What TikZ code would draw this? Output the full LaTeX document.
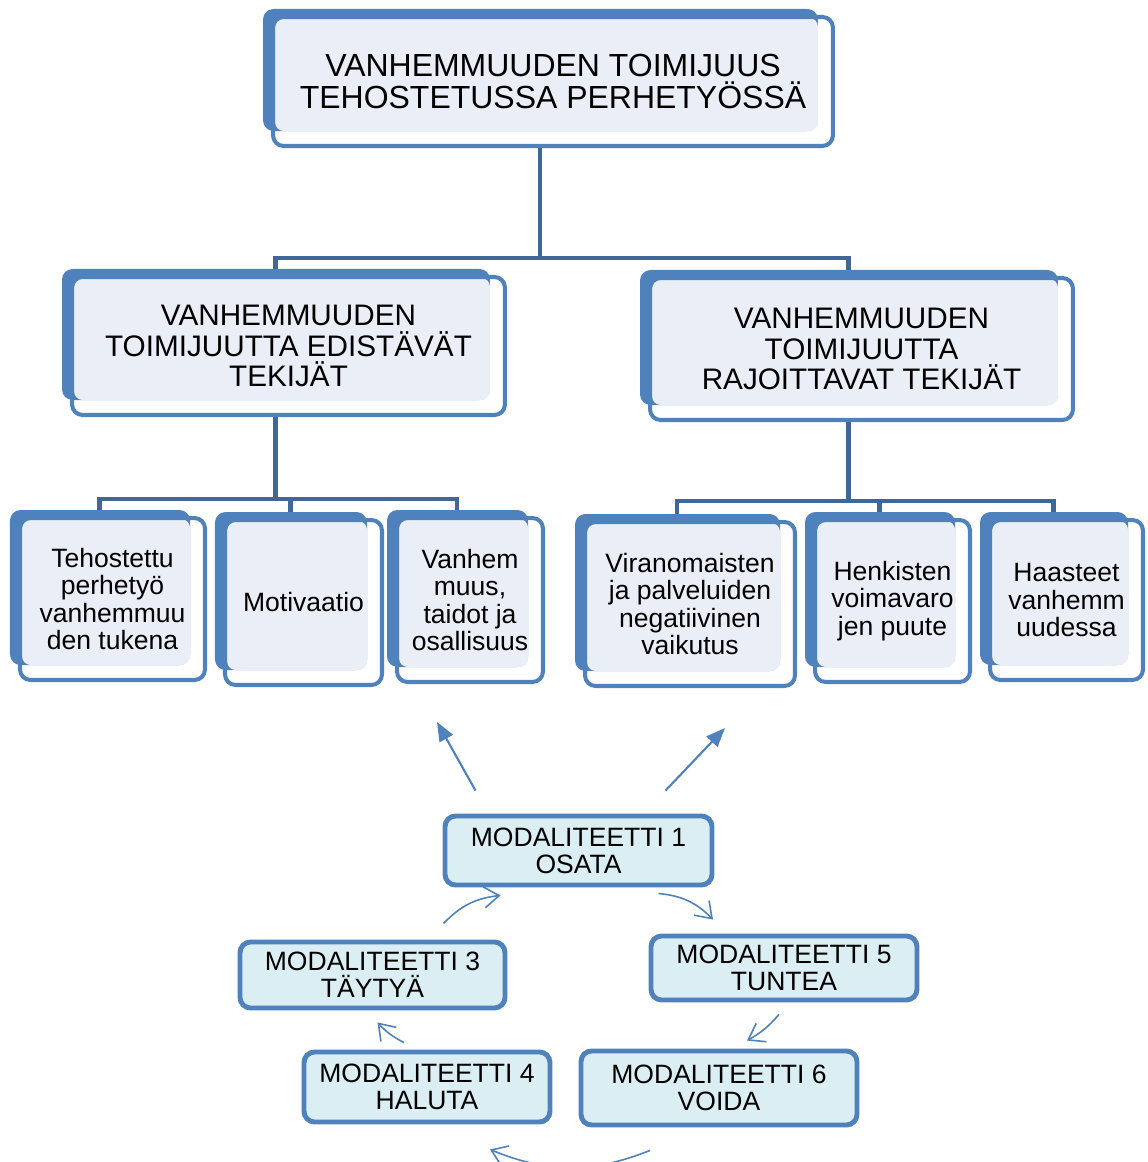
\documentclass[tikz,border=0pt]{standalone}
\usepackage{fontspec}
\setmainfont{Liberation Sans}
\usetikzlibrary{positioning,calc,backgrounds,arrows.meta}
\definecolor{boxblue}{HTML}{4F81BD}
\definecolor{paleblue}{HTML}{EAEFF7}
\definecolor{linkblue}{HTML}{3F6898}
\definecolor{modfill}{HTML}{DAEEF3}
\tikzset{
  tbox/.style={draw=boxblue, line width=2.3pt, rounded corners=6pt, align=center, inner sep=0pt},
  leaf/.style={tbox, font=\fontsize{15.1}{15.7}\selectfont},
  modbox/.style={draw=boxblue, fill=modfill, line width=2.8pt, rounded corners=6pt, align=center,
    inner sep=0pt, font=\fontsize{15.1}{15.3}\selectfont},
  link/.style={draw=linkblue, line width=2.3pt},
  cyc/.style={draw=boxblue, line width=0.9pt, -{Straight Barb[length=0.3cm,width=0.42cm]}},
  pointer/.style={draw=boxblue, line width=1.2pt, -{Triangle[length=0.38cm,width=0.3cm]}}
}
\begin{document}
\begin{tikzpicture}[x=0.02cm,y=-0.02cm]
\useasboundingbox (0,0) rectangle (1148,1162);
%
\node[tbox, minimum width=11.2cm, minimum height=2.58cm, font=\fontsize{18.2}{18.2}\selectfont]
  (top) at (553,81.5) {VANHEMMUUDEN TOIMIJUUS\\TEHOSTETUSSA PERHETYÖSSÄ};
\node[tbox, minimum width=8.66cm, minimum height=2.76cm, font=\fontsize{16.9}{17.6}\selectfont]
  (edist) at (288.5,346) {VANHEMMUUDEN\\TOIMIJUUTTA EDISTÄVÄT\\TEKIJÄT};
\node[tbox, minimum width=8.46cm, minimum height=2.84cm, font=\fontsize{16.9}{17.6}\selectfont]
  (rajoit) at (861.5,349) {VANHEMMUUDEN\\TOIMIJUUTTA\\RAJOITTAVAT TEKIJÄT};
%
\node[leaf, minimum width=3.7cm, minimum height=3.24cm] (l1) at (112.5,599)
  {Tehostettu\\perhetyö\\vanhemmuu\\den tukena};
\node[leaf, minimum width=3.14cm, minimum height=3.3cm] (l2) at (303.5,602.5) {Motivaatio};
\node[leaf, minimum width=2.92cm, minimum height=3.28cm] (l3) at (470,600)
  {Vanhem\\muus,\\taidot ja\\osallisuus};
\node[leaf, minimum width=4.2cm, minimum height=3.28cm] (l4) at (690,604)
  {Viranomaisten\\ja palveluiden\\negatiivinen\\vaikutus};
\node[leaf, minimum width=3.1cm, minimum height=3.24cm] (l5) at (892.5,601)
  {Henkisten\\voimavaro\\jen puute};
\node[leaf, minimum width=3.06cm, minimum height=3.2cm] (l6) at (1066.5,600)
  {Haasteet\\vanhemm\\uudessa};
%
\begin{scope}[on background layer]
\foreach \n in {top,edist,rajoit,l1,l2,l3,l4,l5,l6}{
  \fill[boxblue, rounded corners=6pt] ($(\n.north west)+(-8,-6)$) rectangle ($(\n.south east)+(-17,-17)$);
  \fill[paleblue, rounded corners=5pt] ($(\n.north west)+(4,3)$) rectangle ($(\n.south east)+(-17,-17)$);
}
\end{scope}
%
\draw[link] ($(top.south)+(-13,0)$) -- ++(0,110) coordinate (bar0);
\draw[link] ($(edist.north)+(-13,-6)$) |- (bar0) -| ($(rajoit.north)+(-13,-6)$);
\draw[link] ($(edist.south)+(-13,0)$) -- ++(0,82) coordinate (bar1);
\draw[link] ($(l1.north)+(-13,-6)$) |- (bar1) -| ($(l3.north)+(-13,-6)$);
\draw[link] ($(l2.north)+(-13,-6)$) |- (bar1);
\draw[link] ($(rajoit.south)+(-13,0)$) -- ++(0,79) coordinate (bar2);
\draw[link] ($(l4.north)+(-13,-6)$) |- (bar2) -| ($(l6.north)+(-13,-6)$);
\draw[link] ($(l5.north)+(-13,-6)$) |- (bar2);
%
\node[modbox, minimum width=5.34cm, minimum height=1.38cm] (m1) at (578.5,850.5) {MODALITEETTI 1\\OSATA};
\node[modbox, minimum width=5.3cm, minimum height=1.32cm] (m3) at (372.5,975) {MODALITEETTI 3\\TÄYTYÄ};
\node[modbox, minimum width=5.32cm, minimum height=1.28cm] (m5) at (784,968) {MODALITEETTI 5\\TUNTEA};
\node[modbox, minimum width=4.92cm, minimum height=1.4cm] (m4) at (427,1087) {MODALITEETTI 4\\HALUTA};
\node[modbox, minimum width=5.52cm, minimum height=1.48cm] (m6) at (719,1088) {MODALITEETTI 6\\VOIDA};
%
\coordinate (pl) at (437,722);
\coordinate (pr) at (725,728);
\draw[pointer] ($(m1.north)+(-103,-23)$) -- (pl);
\draw[pointer] ($(m1.north)+(87,-23)$) -- (pr);
%
\draw[cyc] ($(m3.north)+(71,-16)$) to[bend left=20] ($(m1.south)+(-78,8)$);
\draw[cyc] ($(m1.south)+(80,6)$) to[bend left=20] ($(m5.north)+(-71,-14)$);
\draw[cyc] ($(m5.south)+(-5,12)$) to[bend left=10] ($(m6.north)+(28,-8)$);
\draw[cyc] ($(m6.south)+(-69,23)$) to[bend left=22] ($(m4.south)+(63,25)$);
\draw[cyc] ($(m4.north)+(-23,-7)$) to[bend left=10] ($(m3.south)+(5,12)$);
\end{tikzpicture}
\end{document}
